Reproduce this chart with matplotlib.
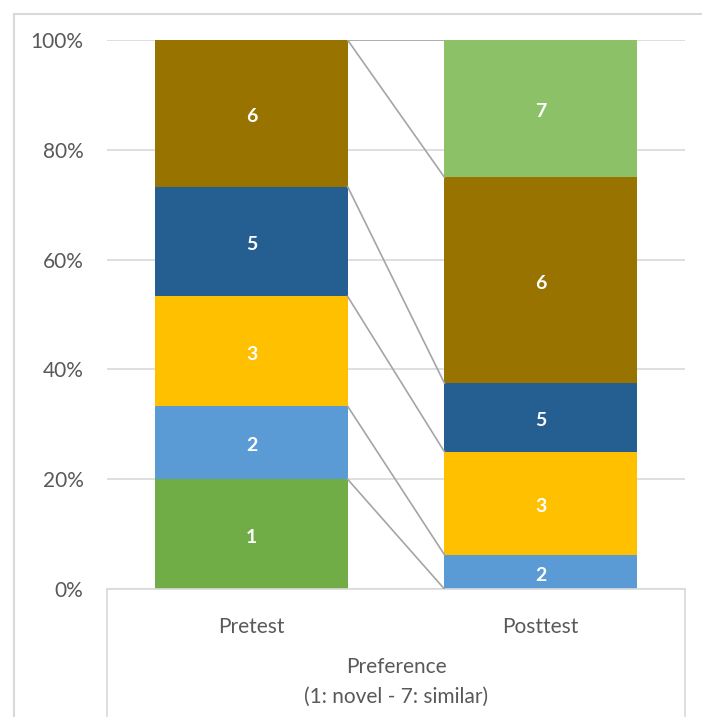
#!/usr/bin/env python3

import matplotlib.pyplot as plt
from matplotlib.lines import Line2D
from matplotlib.patches import Rectangle

categories = ["Pretest", "Posttest"]
levels = ["1", "2", "3", "5", "6", "7"]
pretest = [20.0, 13.3, 20.0, 20.0, 26.7, 0.0]
posttest = [0.0, 6.25, 18.75, 12.5, 37.5, 25.0]
colors = ["#70AD47", "#5B9BD5", "#FFC000", "#255E91", "#997300", "#8CC168"]

W, H = 702, 717
GRID = "#D9D9D9"
TEXT = "#595959"
FONT = ["Lato", "DejaVu Sans"]


def main() -> None:
    fig = plt.figure(figsize=(W / 100, H / 100), dpi=100)
    ax = fig.add_axes([107 / W, 1 - 589 / H, (685 - 107) / W, (589 - 40) / H])

    width = 0.665
    x = [0, 1]
    bottoms = [0.0, 0.0]
    tops = []
    for lvl, col, a, b in zip(levels, colors, pretest, posttest):
        vals = [a, b]
        ax.bar(x, vals, width=width, bottom=bottoms, color=col, zorder=2)
        for xi, v, b0 in zip(x, vals, bottoms):
            if v > 0:
                ax.text(xi, b0 + v / 2 - 0.6, lvl, ha="center", va="center",
                        color="white", fontsize=14, fontweight="bold",
                        family=FONT, zorder=4)
        bottoms = [b0 + v for b0, v in zip(bottoms, vals)]
        tops.append(list(bottoms))

    # series lines between the two stacks
    for t in tops:
        ax.plot([x[0] + width / 2, x[1] - width / 2], t, color="#A5A5A5",
                lw=1.2, zorder=3)

    ax.set_xlim(-0.5, 1.5)
    ax.set_ylim(0, 100)
    ax.set_yticks(range(0, 101, 20))
    ax.set_yticklabels([f"{v}%" for v in range(0, 101, 20)], family=FONT,
                       fontsize=15, color=TEXT)
    ax.yaxis.grid(True, color=GRID, lw=1.2, zorder=0)
    ax.tick_params(axis="y", length=0, pad=17)
    ax.set_xticks(x)
    ax.set_xticklabels(categories, family=FONT, fontsize=15, color=TEXT)
    ax.tick_params(axis="x", length=0, pad=20)
    for s in ("top", "right", "left"):
        ax.spines[s].set_visible(False)
    ax.spines["bottom"].set_color(GRID)
    ax.spines["bottom"].set_linewidth(1.2)

    # category axis box
    for px in (107, 685):
        fig.add_artist(Line2D([px / W, px / W], [1 - 589 / H, 0], color=GRID,
                              lw=1.2))
    fig.text(396 / W, 1 - 667 / H, "Preference", ha="center", va="center",
             family=FONT, fontsize=15, color=TEXT)
    fig.text(396 / W, 1 - 697 / H, "(1: novel - 7: similar)", ha="center",
             va="center", family=FONT, fontsize=15, color=TEXT)

    # chart area border
    fig.add_artist(Rectangle((14 / W, -0.1), 1.2, 1 - 14 / H + 0.1,
                             transform=fig.transFigure, fill=False,
                             edgecolor=GRID, lw=1.5))

    fig.savefig("out.png", dpi=100)


if __name__ == "__main__":
    main()
